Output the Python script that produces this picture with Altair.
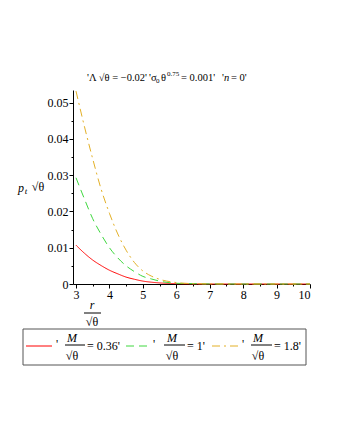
import altair as alt
import pandas as pd

# ---- data ----
r_vals = [3, 3.25, 3.5, 3.75, 4, 4.25, 4.5, 4.75, 5, 5.25, 5.5, 6, 6.5, 7, 8, 9, 10]
p_m036 = [0.0107, 0.0085, 0.0066, 0.0051, 0.0038, 0.0028, 0.0019, 0.0013, 0.0008,
          0.0005, 0.0003, 0.0001, 0.00003, 0, 0, 0, 0]
p_m1 = [0.0293, 0.0235, 0.0180, 0.0137, 0.0100, 0.0072, 0.0050, 0.0034, 0.0021,
        0.0014, 0.0008, 0.0002, 0.0001, 0.00002, 0, 0, 0]
p_m18 = [0.0532, 0.0435, 0.0345, 0.0262, 0.0195, 0.0138, 0.0093, 0.0059, 0.0036,
         0.0022, 0.0013, 0.0004, 0.0001, 0.00003, 0, 0, 0]
series_names = ["0.36", "1", "1.8"]
series_colors = ["#ff0000", "#3ed83e", "#e3b027"]
series_dash = [[1, 0], [8, 5], [8, 4, 2, 4]]
x_major = [3, 4, 5, 6, 7, 8, 9, 10]
x_minor = [3.5, 4.5, 5.5, 6.5, 7.5, 8.5, 9.5]
y_major = [0, 0.01, 0.02, 0.03, 0.04, 0.05]
y_minor = [0.005, 0.015, 0.025, 0.035, 0.045]

rows = []
for name, ys in zip(series_names, [p_m036, p_m1, p_m18]):
    for x, y in zip(r_vals, ys):
        rows.append({"r": x, "p": y, "M": name})
df = pd.DataFrame(rows)

SERIF = "Liberation Serif, Times New Roman, serif"
W, H = 237, 194

xs = alt.Scale(domain=[2.91, 10], nice=False, zero=False)
ys = alt.Scale(domain=[0, 0.0535], nice=False)

axkw = dict(labelFont=SERIF, labelFontSize=12, labelColor="black", domainColor="black",
            tickColor="black", grid=False, title=None)

lines = alt.Chart(df).mark_line(strokeWidth=1, interpolate="monotone").encode(
    x=alt.X("r:Q", scale=xs, axis=alt.Axis(values=x_major, format="d", tickSize=4,
                                            labelPadding=1, **axkw)),
    y=alt.Y("p:Q", scale=ys, axis=alt.Axis(values=y_major, format="~g", tickSize=4,
                                            labelPadding=1, **axkw)),
    color=alt.Color("M:N", scale=alt.Scale(domain=series_names, range=series_colors), legend=None),
    strokeDash=alt.StrokeDash("M:N", scale=alt.Scale(domain=series_names, range=series_dash), legend=None),
)

minor = alt.Chart(df).mark_line(opacity=0).encode(
    x=alt.X("r:Q", scale=xs, axis=alt.Axis(values=x_minor, labels=False, domain=False,
                                            tickSize=2, orient="bottom", **axkw)),
    y=alt.Y("p:Q", scale=ys, axis=alt.Axis(values=y_minor, labels=False, domain=False,
                                            tickSize=2, orient="left", **axkw)),
)

blank = alt.Data(values=[{}])


def label(txt, x, y, size=12, align="center", baseline="middle", style="normal"):
    return alt.Chart(blank).mark_text(text=txt, fontSize=size, align=align, baseline=baseline,
                                      fontStyle=style, font=SERIF, color="black").encode(
        x=alt.value(x), y=alt.value(y))


def hrule(x1, x2, y, color="black", dash=None, width=1):
    kw = dict(color=color, strokeWidth=width)
    if dash:
        kw["strokeDash"] = dash
    return alt.Chart(blank).mark_rule(**kw).encode(x=alt.value(x1), x2=alt.value(x2), y=alt.value(y))


ox, oy = 73, 90  # plot origin on page (for converting positions)

layers = [lines, minor]
# title pieces
ty = 78 - oy
layers.append(label("'Λ √θ = −0.02'", 87 - ox, ty, size=10.5, align="left"))
layers.append(label("'σ", 149 - ox, ty, size=10.5, align="left"))
layers.append(label("0", 156 - ox, ty + 3, size=7, align="left"))
layers.append(label("θ", 161 - ox, ty, size=10.5, align="left"))
layers.append(label("0.75", 167 - ox, ty - 4, size=7, align="left"))
layers.append(label("= 0.001'", 181 - ox, ty, size=10.5, align="left"))
layers.append(label("'", 222 - ox, ty, size=10.5, align="left"))
layers.append(label("n", 224 - ox, ty, size=10.5, align="left", style="italic"))
layers.append(label("= 0'", 231 - ox, ty, size=10.5, align="left"))
# y label
layers.append(label("p", 21 - ox, 188 - oy, size=12, style="italic"))
layers.append(label("t", 26 - ox, 191 - oy, size=9, style="italic"))
layers.append(label("√θ", 38 - ox, 187 - oy, size=12))
# x label fraction
layers.append(label("r", 92 - ox, 305 - oy, size=12, style="italic"))
layers.append(hrule(84 - ox, 101 - ox, 313 - oy))
layers.append(label("√θ", 92 - ox, 322 - oy, size=12))

# legend box
layers.append(alt.Chart(blank).mark_rect(fillOpacity=0, stroke="#555", strokeWidth=1).encode(
    x=alt.value(23 - ox), x2=alt.value(306 - ox), y=alt.value(329 - oy), y2=alt.value(365 - oy)))

leg = [
    (26, 52, 57, 72, 65, 85, 87, "= 0.36'"),
    (126, 152, 154, 172, 164, 185, 187, "= 1'"),
    (212, 238, 243, 258, 251, 272, 274, "= 1.8'"),
]
for i, (l1, l2, q, mx, b1, b2, ex, tail) in enumerate(leg):
    layers.append(hrule(l1 - ox, l2 - ox, 346 - oy, color=series_colors[i],
                        dash=series_dash[i] if i else None))
    layers.append(label("'", q - ox, 344 - oy, size=12))
    layers.append(label("M", mx - ox, 338 - oy, size=12, style="italic"))
    layers.append(hrule(b1 - ox, b2 - ox, 345 - oy))
    layers.append(label("√θ", mx - ox, 356 - oy, size=12))
    layers.append(label(tail, ex - ox, 346 - oy, size=12, align="left"))

chart = alt.layer(*layers).resolve_axis(x="independent", y="independent").properties(
    width=W, height=H,
    autosize=alt.AutoSizeParams(type="none"),
    padding={"left": 65, "top": 82, "right": 22, "bottom": 92},
).configure_view(strokeWidth=0)

chart.save("out.html", embed_options={"renderer": "svg", "actions": False})
